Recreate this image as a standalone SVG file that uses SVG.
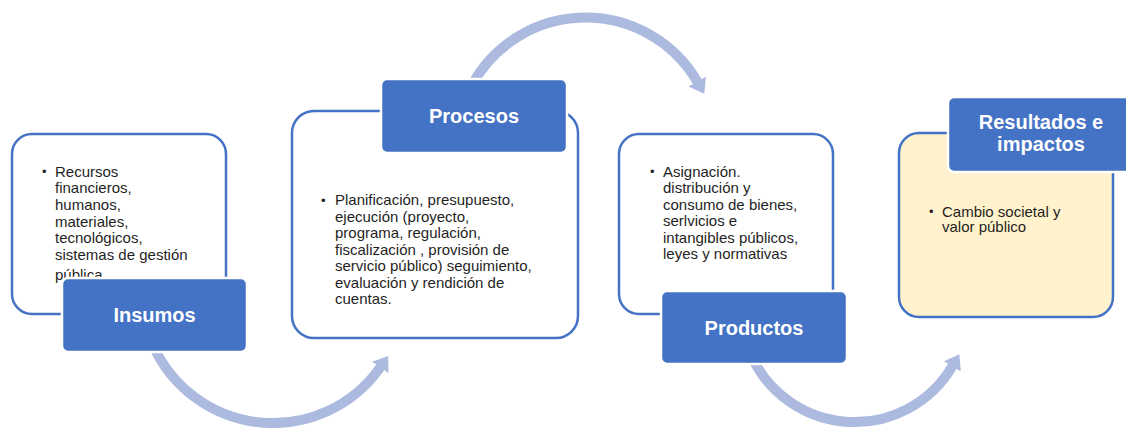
<svg xmlns="http://www.w3.org/2000/svg" width="1126" height="428" viewBox="0 0 1126 428">
<defs>
<style>
.box{fill:#ffffff;stroke:#4472C4;stroke-width:2.5}
.box.yellow{fill:#FFF2CC}
.lbl{fill:#4472C4;stroke:#ffffff;stroke-width:2.5}
.lt{font-family:"Liberation Sans",Arial,sans-serif;font-size:20px;font-weight:bold;fill:#ffffff;text-anchor:middle}
.bt{font-family:"Liberation Sans",Arial,sans-serif;font-size:15px;fill:#1f1f1f}
.bl{font-family:"Liberation Sans",Arial,sans-serif;font-size:13px;fill:#1f1f1f}
.arc{fill:none;stroke:#ADBADF;stroke-width:10;marker-end:url(#head)}
</style>
<marker id="head" markerUnits="userSpaceOnUse" viewBox="0 0 14 20" markerWidth="14" markerHeight="20" refX="0.5" refY="10" orient="auto">
<path d="M0,0 L14,10 L0,20 Z" fill="#ADBADF"/>
</marker>
</defs>
<g id="connectors">
<path class="arc" d="M153 345 A131.2 131.2 0 0 0 380.5 367"/>
<path class="arc" d="M472 85 A129.4 129.4 0 0 1 697.5 82"/>
<path class="arc" d="M751 355 A113.5 113.5 0 0 0 952.5 366"/>
</g>
<g id="insumos">
<rect class="box" x="12" y="134" width="214" height="180" rx="20"/>
<text class="bl" x="42" y="176">•</text>
<text class="bt" x="55" y="176.5">Recursos</text>
<text class="bt" x="55" y="193.2">financieros,</text>
<text class="bt" x="55" y="209.9">humanos,</text>
<text class="bt" x="55" y="226.6">materiales,</text>
<text class="bt" x="55" y="243.3">tecnológicos,</text>
<text class="bt" x="55" y="260">sistemas de gestión</text>
<text class="bt" x="55" y="279.5">pública</text>
<rect class="lbl" x="62" y="278" width="185" height="74" rx="6"/>
<text class="lt" x="154.5" y="322">Insumos</text>
</g>
<g id="procesos">
<rect class="box" x="292" y="111" width="286" height="227" rx="22"/>
<text class="bl" x="321" y="204.5">•</text>
<text class="bt" x="335" y="205">Planificación, presupuesto,</text>
<text class="bt" x="335" y="221.5">ejecución (proyecto,</text>
<text class="bt" x="335" y="238">programa, regulación,</text>
<text class="bt" x="335" y="254.5">fiscalización , provisión de</text>
<text class="bt" x="335" y="271">servicio público) seguimiento,</text>
<text class="bt" x="335" y="287.5">evaluación y rendición de</text>
<text class="bt" x="335" y="304">cuentas.</text>
<rect class="lbl" x="381" y="79" width="186" height="74" rx="6"/>
<text class="lt" x="474" y="123">Procesos</text>
</g>
<g id="productos">
<rect class="box" x="619" y="134" width="214" height="180" rx="20"/>
<text class="bl" x="650" y="176">•</text>
<text class="bt" x="663" y="176.5">Asignación.</text>
<text class="bt" x="663" y="193">distribución y</text>
<text class="bt" x="663" y="209.5">consumo de bienes,</text>
<text class="bt" x="663" y="226">serlvicios e</text>
<text class="bt" x="663" y="242.5">intangibles públicos,</text>
<text class="bt" x="663" y="259">leyes y normativas</text>
<rect class="lbl" x="661" y="291" width="186" height="73" rx="6"/>
<text class="lt" x="754" y="335">Productos</text>
</g>
<g id="resultados">
<rect class="box yellow" x="899" y="133" width="214" height="184" rx="20"/>
<text class="bl" x="929" y="216">•</text>
<text class="bt" x="942" y="216.5">Cambio societal y</text>
<text class="bt" x="942" y="232">valor público</text>
<rect class="lbl" x="948" y="97" width="186" height="75" rx="6"/>
<text class="lt" x="1041" y="129">Resultados e</text>
<text class="lt" x="1041" y="151">impactos</text>
</g>
</svg>
